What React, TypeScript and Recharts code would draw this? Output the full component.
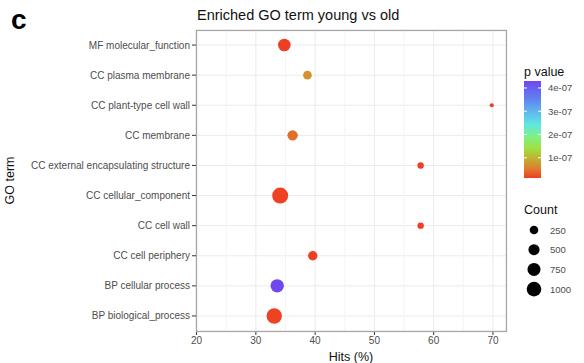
import {
  CartesianGrid,
  ReferenceLine,
  Scatter,
  ScatterChart,
  XAxis,
  YAxis,
} from 'recharts';

// top to bottom, as drawn
const terms = [
  'MF molecular_function',
  'CC plasma membrane',
  'CC plant-type cell wall',
  'CC membrane',
  'CC external encapsulating structure',
  'CC cellular_component',
  'CC cell wall',
  'CC cell periphery',
  'BP cellular process',
  'BP biological_process',
];
const hits = [34.8, 38.7, 69.8, 36.2, 57.8, 34.1, 57.8, 39.6, 33.6, 33.1];
const counts = [690, 250, 14, 420, 100, 1240, 100, 320, 810, 1130];
const pValues = [
  1.5e-8, 7.0e-8, 1.3e-8, 4.4e-8, 1.4e-8, 1.6e-8, 1.4e-8, 1.5e-8, 4.3e-7, 1.7e-8,
];

const xTicks = [20, 30, 40, 50, 60, 70];
const xMinor = [25, 35, 45, 55, 65];
const pTicks = [1e-7, 2e-7, 3e-7, 4e-7];
const pTickLabels = ['1e-07', '2e-07', '3e-07', '4e-07'];
const countBreaks = [250, 500, 750, 1000];

const data = terms.map((term, i) => ({
  term,
  hits: hits[i],
  count: counts[i],
  p: pValues[i],
}));

const pMin = Math.min(...pValues);
const pMax = Math.max(...pValues);

// colour ramp, low p (red) -> high p (purple)
const ramp: [number, string][] = [
  [0, '#f03c22'],
  [0.1, '#dc8030'],
  [0.2, '#c0b030'],
  [0.3, '#a0e040'],
  [0.42, '#80f080'],
  [0.55, '#60e8e0'],
  [0.7, '#60b0f0'],
  [0.82, '#6080f0'],
  [1, '#7048f0'],
];

function hexToRgb(h: string) {
  return [1, 3, 5].map((k) => parseInt(h.slice(k, k + 2), 16));
}

function pColor(p: number) {
  const t = Math.max(0, Math.min(1, (p - pMin) / (pMax - pMin)));
  for (let i = 1; i < ramp.length; i++) {
    if (t <= ramp[i][0]) {
      const [t0, c0] = ramp[i - 1];
      const [t1, c1] = ramp[i];
      const f = (t - t0) / (t1 - t0);
      const a = hexToRgb(c0);
      const b = hexToRgb(c1);
      const mix = a.map((v, k) => Math.round(v + (b[k] - v) * f));
      return `rgb(${mix.join(',')})`;
    }
  }
  return ramp[ramp.length - 1][1];
}

// size scale: radius linear in sqrt(count)
const radius = (count: number) => 1.3 + 0.19 * Math.sqrt(count);

const font = '"Liberation Sans", Arial, sans-serif';

const Dot = (props: any) => {
  const { cx, cy, payload } = props;
  if (cx == null || cy == null) return null;
  return <circle cx={cx} cy={cy} r={radius(payload.count)} fill={pColor(payload.p)} />;
};

// single-line y tick, no wrapping
const TermTick = (props: any) => {
  const { x, y, payload } = props;
  return (
    <text x={x} y={y} dy={3.5} textAnchor="end" fontSize={10} fill="#4d4d4d">
      {payload.value}
    </text>
  );
};

// plot panel box
const PANEL = { left: 196, top: 30, width: 310, height: 301 };
const BAR = { x: 524, y: 81, w: 17, h: 97 };

function Legends() {
  const pY = (p: number) => BAR.y + BAR.h - ((p - pMin) / (pMax - pMin)) * BAR.h;
  const stops = ramp.slice().reverse();
  return (
    <svg
      width={584}
      height={363}
      style={{ position: 'absolute', left: 0, top: 0, pointerEvents: 'none' }}
      fontFamily={font}
    >
      <defs>
        <linearGradient id="pgrad" x1="0" y1="0" x2="0" y2="1">
          {stops.map(([t, c]) => (
            <stop key={t} offset={1 - t} stopColor={c} />
          ))}
        </linearGradient>
      </defs>
      <text x={11} y={29} fontSize={28} fontWeight="bold" fill="#000">
        c
      </text>
      <text x={197} y={20} fontSize={14.5} fill="#111">
        Enriched GO term young vs old
      </text>
      <rect
        x={PANEL.left + 0.5}
        y={PANEL.top + 0.5}
        width={PANEL.width}
        height={PANEL.height}
        fill="none"
        stroke="#a6a6a6"
        strokeWidth={1.2}
      />
      <text x={524} y={76} fontSize={12.5} fill="#111">
        p value
      </text>
      <rect x={BAR.x} y={BAR.y} width={BAR.w} height={BAR.h} fill="url(#pgrad)" />
      {pTicks.map((p, i) => (
        <g key={p}>
          <line x1={BAR.x} x2={BAR.x + 3} y1={pY(p)} y2={pY(p)} stroke="#fff" />
          <line x1={BAR.x + BAR.w - 3} x2={BAR.x + BAR.w} y1={pY(p)} y2={pY(p)} stroke="#fff" />
          <text x={548} y={pY(p) + 3.5} fontSize={9.5} fill="#4d4d4d">
            {pTickLabels[i]}
          </text>
        </g>
      ))}
      <text x={524} y={214} fontSize={12.5} fill="#111">
        Count
      </text>
      {countBreaks.map((c, i) => (
        <g key={c}>
          <circle cx={534} cy={230 + i * 19.7} r={radius(c)} fill="#000" />
          <text x={550} y={230 + i * 19.7 + 3.5} fontSize={9.5} fill="#4d4d4d">
            {c}
          </text>
        </g>
      ))}
    </svg>
  );
}

export default function App() {
  return (
    <div
      style={{
        position: 'absolute',
        left: 0,
        top: 0,
        width: 584,
        height: 363,
        background: '#fff',
        fontFamily: font,
      }}
    >
      <ScatterChart
        width={584}
        height={363}
        margin={{ top: PANEL.top, right: 584 - PANEL.left - PANEL.width, bottom: 0, left: 0 }}
      >
        <CartesianGrid stroke="#ebebeb" strokeWidth={1} />
        {xMinor.map((v) => (
          <ReferenceLine key={v} x={v} stroke="#f4f4f4" strokeWidth={1} />
        ))}
        <XAxis
          type="number"
          dataKey="hits"
          domain={[19.9, 72.2]}
          ticks={xTicks}
          height={363 - PANEL.top - PANEL.height}
          axisLine={false}
          tickSize={4}
          tickLine={{ stroke: '#333' }}
          tick={{ fontSize: 10, fill: '#4d4d4d' }}
          label={{ value: 'Hits (%)', position: 'insideBottom', offset: 2, fontSize: 12.5, fill: '#111' }}
        />
        <YAxis
          type="category"
          dataKey="term"
          allowDuplicatedCategory={false}
          reversed
          width={PANEL.left}
          axisLine={false}
          tickSize={4}
          tickMargin={2}
          tickLine={{ stroke: '#333' }}
          tick={<TermTick />}
          interval={0}
          label={{ value: 'GO term', angle: -90, position: 'insideLeft', offset: 10, fontSize: 12.5, fill: '#111', style: { textAnchor: 'middle' } }}
        />
        <Scatter data={data} shape={<Dot />} isAnimationActive={false} />
      </ScatterChart>
      <Legends />
    </div>
  );
}
